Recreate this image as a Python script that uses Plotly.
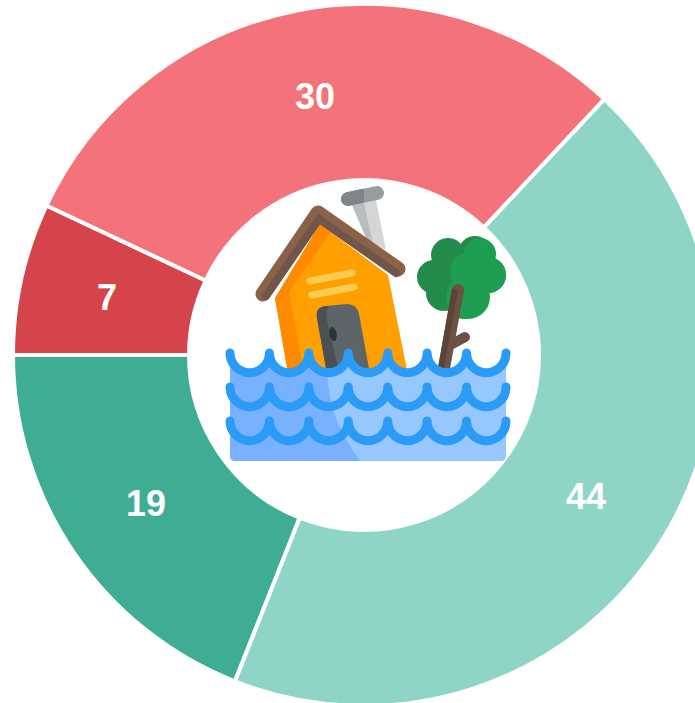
import base64
import math
import plotly.graph_objects as go

categories = ["Teal light", "Teal dark", "Red dark", "Red light"]
values = [44, 19, 7, 30]
slice_colors = ["#8fd5c7", "#3ead94", "#d5444b", "#f47279"]
START_ANGLE = 43.2

WIDTH, HEIGHT, TOP = 728, 706, 4
CX = [230 + i * 39.43 for i in range(8)]


def wave_path(y):
    d = f"M{CX[0]},{y}"
    for x in CX[1:]:
        d += f" A19.7,19.7 0 0 0 {x},{y}"
    return d


water_outline = wave_path(353) + " L506,456 Q506,461 501,461 L235,461 Q230,461 230,456 Z"
dark_water = "M230,353 L327,353 L327,370 Q328,395 334,413 Q344,440 360,461 L235,461 Q230,461 230,456 Z"

icon = f'''<svg xmlns="http://www.w3.org/2000/svg" width="300" height="300" viewBox="220 175 300 300">
<defs>
<clipPath id="water"><path d="{water_outline}"/></clipPath>
<clipPath id="cap"><path d="M335,175H364V215H335Z"/></clipPath>
</defs>
<path d="M352,205 L376,200 L386,250 L367,240 Z" fill="#d4d5d6"/>
<path d="M352,205 L364,203 L373,244 L367,240 Z" fill="#b9bdc0"/>
<path d="M348,199 L377,193" stroke="#989da0" stroke-width="14" stroke-linecap="round" fill="none"/>
<path d="M348,199 L377,193" stroke="#7f8588" stroke-width="14" stroke-linecap="round" fill="none" clip-path="url(#cap)"/>
<path d="M320,224 L388,275 L410,385 L290,385 L275,298 Z" fill="#ff9f00"/>
<path d="M320,224 L331,232 L289,292 L306,385 L290,385 L275,298 Z" fill="#ff8a00"/>
<path d="M263,294 L318,213 L398,269" stroke="#8b6248" stroke-width="15" stroke-linecap="round" stroke-linejoin="round" fill="none"/>
<path d="M266,296 L319,219 L396,273" stroke="#70554a" stroke-width="8" stroke-linecap="round" stroke-linejoin="miter" fill="none"/>
<path d="M310,281 L352,273 M312,295 L354,287" stroke="#f7cd4f" stroke-width="7" stroke-linecap="round" fill="none"/>
<path d="M329,385 L317,318 Q315,307 326,306 L347,304 Q357,304 359,314 L372,385 Z" fill="#5e6568"/>
<path d="M329,385 L317,318 Q315,307 326,306 L329,306 Q325,310 327,320 L342,385 Z" fill="#4a5053"/>
<ellipse cx="333" cy="334" rx="3.6" ry="7" transform="rotate(-10 333 334)" fill="#2d3235"/>
<g fill="#238c4d">
<circle cx="448" cy="255" r="17"/><circle cx="434" cy="277" r="17"/><circle cx="475" cy="253" r="17"/>
<circle cx="488" cy="275" r="18"/><circle cx="465" cy="298" r="21"/><circle cx="444" cy="293" r="18"/><circle cx="458" cy="275" r="18"/>
</g>
<g fill="#1e9e50">
<circle cx="480" cy="254" r="16"/><circle cx="488" cy="275" r="18"/><circle cx="468" cy="297" r="22"/><circle cx="470" cy="272" r="20"/>
</g>
<path d="M452,344 L465,337" stroke="#6e5145" stroke-width="10" stroke-linecap="round" fill="none"/>
<path d="M458,290 L441,385" stroke="#6e5145" stroke-width="12" stroke-linecap="round" fill="none"/>
<path d="M455,289 L438,385" stroke="#5b4338" stroke-width="6" fill="none"/>
<path d="{water_outline}" fill="#97c7ff"/>
<path d="{dark_water}" fill="#77b1ff" clip-path="url(#water)"/>
<path d="{wave_path(353)} {wave_path(387)} {wave_path(421)}" stroke="#2b9bf8" stroke-width="9" stroke-linecap="round" stroke-linejoin="round" fill="none"/>
</svg>'''
icon_uri = "data:image/svg+xml;base64," + base64.b64encode(icon.encode()).decode()

fig = go.Figure(
    go.Pie(
        labels=categories,
        values=values,
        sort=False,
        direction="clockwise",
        rotation=START_ANGLE,
        hole=0.4986,
        marker=dict(colors=slice_colors, line=dict(color="#ffffff", width=4)),
        textinfo="none",
        hoverinfo="skip",
        showlegend=False,
    )
)

plot_h = HEIGHT - TOP
pie_r = plot_h / 2
label_r = 263.5
annotations = []
cumulative = 0
for v in values:
    mid = math.radians(START_ANGLE + (cumulative + v / 2) / sum(values) * 360)
    cumulative += v
    annotations.append(
        dict(
            text=str(v),
            xref="paper",
            yref="paper",
            x=0.5 + label_r * math.sin(mid) / WIDTH,
            y=0.5 + label_r * math.cos(mid) / plot_h,
            xanchor="center",
            yanchor="middle",
            showarrow=False,
            font=dict(family="Liberation Sans", size=36, color="#ffffff", weight=700),
        )
    )

fig.update_layout(
    width=WIDTH,
    height=HEIGHT,
    margin=dict(l=0, r=0, t=TOP, b=0, pad=0),
    paper_bgcolor="#ffffff",
    annotations=annotations,
    images=[
        dict(
            source=icon_uri,
            xref="paper",
            yref="paper",
            x=220 / WIDTH,
            y=1 - (175 - TOP) / plot_h,
            sizex=300 / WIDTH,
            sizey=300 / plot_h,
            xanchor="left",
            yanchor="top",
            sizing="stretch",
            layer="above",
        )
    ],
)

fig.write_html(
    "out.html",
    config={"displayModeBar": False, "responsive": False},
    post_script="document.documentElement.style.overflow='hidden';document.body.style.margin='0';document.body.style.overflow='hidden';",
)
